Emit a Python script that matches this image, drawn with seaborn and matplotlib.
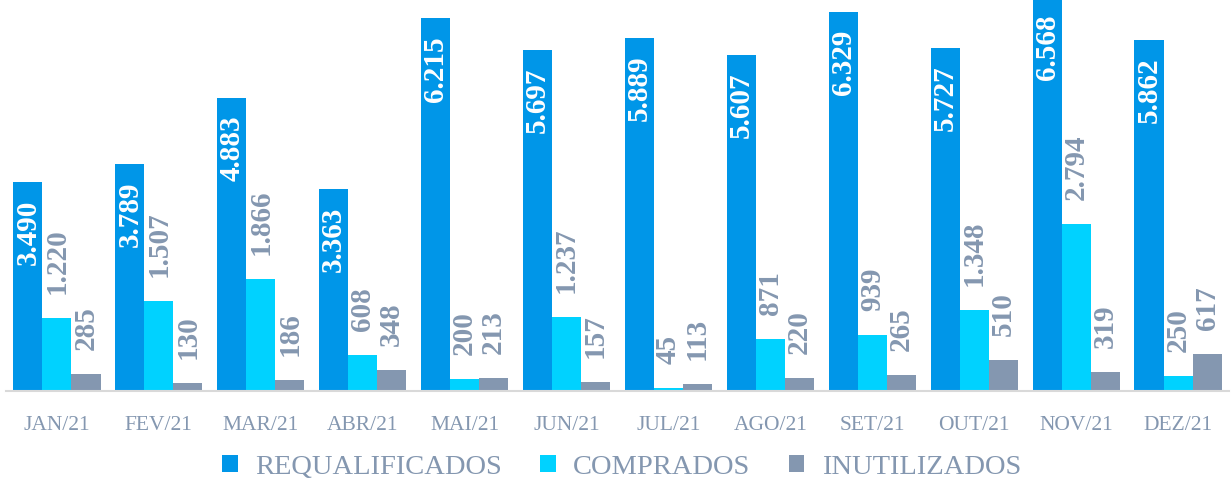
import numpy as np
import pandas as pd
import matplotlib
matplotlib.use("Agg")
import matplotlib.pyplot as plt
import seaborn as sns

# ---------------------------------------------------------------------------
# Data
# ---------------------------------------------------------------------------
months = ["JAN/21", "FEV/21", "MAR/21", "ABR/21", "MAI/21", "JUN/21",
          "JUL/21", "AGO/21", "SET/21", "OUT/21", "NOV/21", "DEZ/21"]
series = ["REQUALIFICADOS", "COMPRADOS", "INUTILIZADOS"]
requalificados = [3490, 3789, 4883, 3363, 6215, 5697, 5889, 5607, 6329, 5727, 6568, 5862]
comprados = [1220, 1507, 1866, 608, 200, 1237, 45, 871, 939, 1348, 2794, 250]
inutilizados = [285, 130, 186, 348, 213, 157, 113, 220, 265, 510, 319, 617]
colors = ["#0096E8", "#00D2FF", "#8497B0"]

TEXT_GRAY = "#8497B0"

df = pd.DataFrame({
    "mes": months * 3,
    "serie": np.repeat(series, len(months)),
    "valor": requalificados + comprados + inutilizados,
})

sns.set_theme(style="white")
plt.rcParams["font.family"] = ["Liberation Serif", "DejaVu Serif"]

fig = plt.figure(figsize=(12.31, 4.85), dpi=100)
ax = fig.add_axes([6 / 1231, 1 - 392 / 485, 1223 / 1231, 392 / 485])

sns.barplot(data=df, x="mes", y="valor", hue="serie", order=months,
            hue_order=series, palette=colors, width=0.855, gap=0,
            saturation=1, edgecolor="none", ax=ax)

ax.set_xlim(-0.5, len(months) - 0.5)
ax.set_ylim(0, 6540)
ax.set_xlabel("")
ax.set_ylabel("")
ax.set_yticks([])
for side in ["top", "right", "left"]:
    ax.spines[side].set_visible(False)
ax.spines["bottom"].set_color("#D9D9D9")
ax.spines["bottom"].set_linewidth(1.5)
ax.tick_params(axis="x", length=0, pad=17, labelsize=15.5, labelcolor=TEXT_GRAY)

# -- value labels --------------------------------------------------------
for i, cont in enumerate(ax.containers):
    for bar in cont:
        h = bar.get_height()
        xc = bar.get_x() + bar.get_width() / 2
        label = f"{int(round(h)):,}".replace(",", ".")
        if i == 0:
            ax.annotate(label, (xc, h), xytext=(0, -12), textcoords="offset points",
                        rotation=90, ha="center", va="top", color="white",
                        fontsize=21, fontweight="bold", annotation_clip=False)
        else:
            ax.annotate(label, (xc, h), xytext=(0, 18), textcoords="offset points",
                        rotation=90, ha="center", va="bottom", color=TEXT_GRAY,
                        fontsize=21, fontweight="bold", annotation_clip=False)

# -- legend ----------------------------------------------------------------
handles, labels = ax.get_legend_handles_labels()
ax.legend_.remove()
fig.legend(handles, labels, loc="center", bbox_to_anchor=(0.505, 17 / 485),
           ncol=3, frameon=False, fontsize=20.5, labelcolor=TEXT_GRAY,
           handlelength=0.55, handleheight=0.55, handletextpad=0.6, columnspacing=1.35)

fig.savefig("out.png", dpi=100)
